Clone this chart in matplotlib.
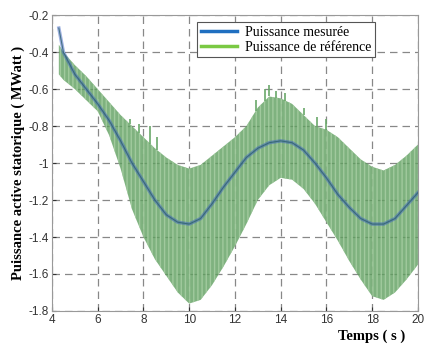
import numpy as np
import matplotlib
matplotlib.use("Agg")
import matplotlib.pyplot as plt
from matplotlib.lines import Line2D

# sample times (s)
t = [4.3, 4.5, 5.0, 5.5, 6.0, 6.5, 7.0, 7.5, 8.0, 8.5, 9.0, 9.5, 10.0, 10.5,
     11.0, 11.5, 12.0, 12.5, 13.0, 13.5, 14.0, 14.5, 15.0, 15.5, 16.0, 16.5,
     17.0, 17.5, 18.0, 18.5, 19.0, 19.5, 20.0]

# envelope of the reference power oscillation (MW)
ref_upper = [-0.36, -0.40, -0.47, -0.53, -0.60, -0.67, -0.74, -0.80, -0.86, -0.92,
             -0.97, -1.01, -1.03, -1.01, -0.96, -0.91, -0.86, -0.80, -0.70, -0.64,
             -0.65, -0.68, -0.74, -0.80, -0.82, -0.86, -0.92, -0.98, -1.02, -1.04,
             -1.01, -0.96, -0.90]
ref_lower = [-0.52, -0.55, -0.60, -0.66, -0.72, -0.85, -1.03, -1.25, -1.40, -1.52,
             -1.61, -1.70, -1.76, -1.74, -1.66, -1.56, -1.45, -1.33, -1.20, -1.12,
             -1.08, -1.09, -1.14, -1.22, -1.32, -1.42, -1.53, -1.63, -1.72, -1.74,
             -1.70, -1.63, -1.55]

# measured power (MW)
measured = [-0.27, -0.40, -0.52, -0.60, -0.68, -0.77, -0.88, -1.00, -1.10, -1.20,
            -1.28, -1.32, -1.33, -1.30, -1.22, -1.13, -1.05, -0.97, -0.92, -0.89,
            -0.88, -0.89, -0.93, -1.00, -1.08, -1.17, -1.24, -1.30, -1.33, -1.33,
            -1.30, -1.23, -1.16]

# isolated peaks above the band
spike_t = [7.4, 7.8, 8.3, 8.6, 12.9, 13.3, 13.5, 13.8, 14.2, 15.0, 15.6, 16.0]
spike_top = [-0.76, -0.79, -0.80, -0.86, -0.66, -0.60, -0.58, -0.61, -0.62, -0.70, -0.75, -0.76]
spike_base = np.interp(spike_t, t, ref_upper)

plt.rcParams['hatch.linewidth'] = 1.0

fig = plt.figure(figsize=(4.26, 3.44), dpi=100)
ax = fig.add_axes([0.122, 0.096, 0.859, 0.860])

ax.fill_between(t, ref_lower, ref_upper, facecolor='#5f9f5f', edgecolor='#a9d0a5',
                hatch='||||', linewidth=0, alpha=0.8, zorder=2)
ax.vlines(spike_t, spike_base, spike_top, color='#6aa86a', lw=1.2, zorder=2)
ax.plot(t, measured, color='#1e5f1e', lw=0.8, alpha=0.8, zorder=3)
ax.plot(t, measured, color='#3d62c0', lw=2.5, alpha=0.5, zorder=3)

ax.set_xlim(4, 20)
ax.set_ylim(-1.8, -0.2)
ax.set_xticks(np.arange(4, 21, 2))
ax.set_yticks(np.arange(-1.8, -0.19, 0.2))
ax.set_xticklabels([str(v) for v in range(4, 21, 2)])
ax.set_yticklabels(['-1.8', '-1.6', '-1.4', '-1.2', '-1', '-0.8', '-0.6', '-0.4', '-0.2'])
ax.grid(True, linestyle=(0, (6, 4)), color='#888888', lw=0.9)
ax.set_axisbelow(True)
ax.tick_params(direction='in', length=3, labelsize=8.5, colors='#333333', pad=2)
for lab in ax.get_xticklabels() + ax.get_yticklabels():
    lab.set_family('Liberation Sans')
for s in ax.spines.values():
    s.set_color('#999999')

ax.set_ylabel('Puissance active statorique ( MWatt )', family='Liberation Serif',
              fontweight='bold', fontsize=10.5, labelpad=3)
fig.text(0.873, 0.003, 'Temps ( s )', family='Liberation Serif', fontweight='bold',
         fontsize=10.5, ha='center', va='bottom')

handles = [Line2D([], [], color='#1f6fc0', lw=2.5),
           Line2D([], [], color='#7ac943', lw=2.5)]
leg = ax.legend(handles, ['Puissance mesurée', 'Puissance de référence'],
                loc='upper right', bbox_to_anchor=(0.883, 0.976),
                prop={'family': 'Liberation Serif', 'size': 10},
                fancybox=False, framealpha=1, edgecolor='#555555',
                handlelength=2.6, borderpad=0.25, labelspacing=0.15,
                handletextpad=0.6, borderaxespad=0)
leg.get_frame().set_linewidth(0.8)

fig.savefig('out.png', dpi=100)
